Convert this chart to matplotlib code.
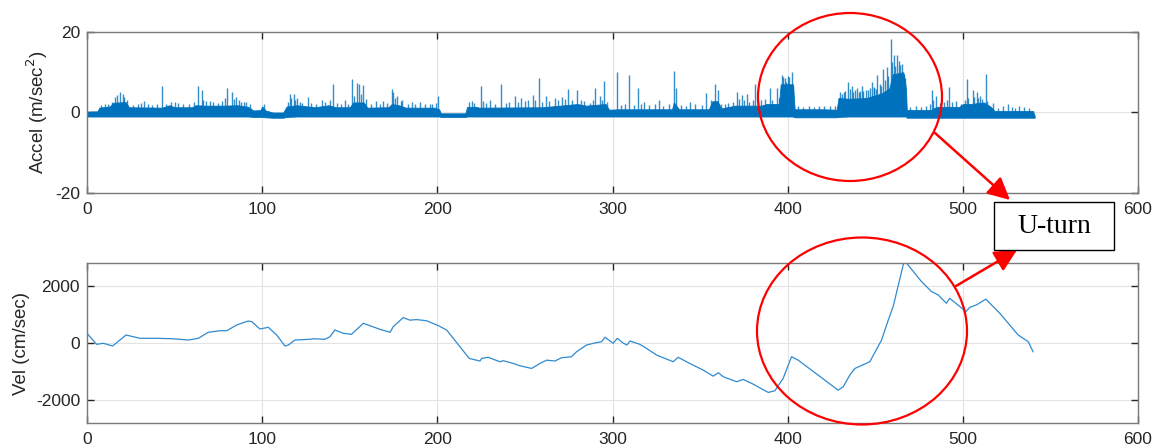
import numpy as np
import matplotlib
matplotlib.use('Agg')
import matplotlib.pyplot as plt
from matplotlib.patches import Ellipse, FancyArrowPatch, Rectangle

# accel band (noise floor): time, upper edge, lower edge
env_t  = [0, 6, 7, 13, 15, 22, 24, 43, 47, 50, 60, 62, 68, 78, 86, 92, 95, 99, 100, 102,
          106, 112, 114, 120, 130, 138, 142, 150, 152, 158, 160, 172, 174, 178, 182, 198,
          201, 202, 216, 217, 222, 224, 260, 280, 285, 296, 298, 304, 334, 335, 338, 355,
          357, 360, 362, 370, 385, 388, 395, 396, 403, 404, 420, 428, 429, 435, 445, 454,
          458, 460, 466, 467.5, 468, 482, 484, 486, 498, 500, 504, 512, 516, 518, 540, 541]
env_hi = [0.2, 0.3, 1.2, 1.5, 2.4, 2.6, 1.3, 1.2, 1.8, 1.3, 1.3, 1.8, 1.7, 1.7, 1.8, 1.4, 0.5, 0.6, 1.5, 0.5,
          0.0, 0.0, 1.5, 1.8, 1.3, 1.8, 1.3, 1.3, 2.5, 2.5, 1.2, 1.3, 2.1, 1.8, 1.2, 1.2,
          0.8, -0.2, -0.2, 1.4, 1.4, 1.2, 1.3, 2.1, 1.7, 2.1, 0.7, 0.8, 0.8, 2.5, 0.8, 0.8,
          2.8, 2.8, 1.0, 1.7, 1.7, 2.1, 2.1, 7.0, 7.0, 0.8, 0.8, 0.7, 3.6, 3.4, 3.6, 4.8,
          6.0, 9.5, 10.0, 6.0, 0.6, 0.6, 1.2, 1.4, 1.4, 2.1, 2.1, 2.5, 1.4, 0.4, 0.4, -0.8]
env_lo = [-1.0, -1.0, -1.0, -1.0, -1.0, -1.0, -1.0, -1.0, -1.0, -1.0, -1.0, -1.0, -1.0, -1.0, -1.0, -1.0, -1.1, -1.1, -1.1, -1.2,
          -1.3, -1.3, -1.1, -1.0, -1.0, -1.0, -1.0, -1.0, -1.0, -1.0, -1.0, -1.0, -1.0, -1.0, -1.0, -1.0,
          -1.0, -1.1, -1.1, -1.0, -1.0, -1.0, -1.0, -1.0, -1.0, -1.0, -1.0, -1.0, -1.0, -1.0, -1.0, -1.0,
          -1.0, -1.0, -1.0, -1.0, -1.0, -1.0, -1.0, -1.0, -1.0, -1.2, -1.2, -1.2, -1.1, -1.0, -1.0, -1.0,
          -1.0, -1.0, -1.0, -1.0, -1.3, -1.3, -1.3, -1.3, -1.3, -1.3, -1.3, -1.3, -1.3, -1.3, -1.3, -1.3]

# tall accel spikes: time, peak value
spike_t = [17, 18.8, 20.5, 32.7, 43, 48, 50.5, 63.5, 65.8, 68, 80, 82.5, 85, 87, 89.5,
           115.9, 118.3, 120, 126, 134, 140.4, 147, 151.4, 153.9, 155.4, 157.7, 165, 169,
           173.9, 174.8, 177, 180, 185.3, 190, 195.8, 200.5, 219.9, 224.7, 230, 236.1,
           244.1, 248, 254.4, 258.2, 262, 267, 271, 274.7, 279.5, 290, 292.8, 295.3,
           302.3, 309.5, 314.4, 318, 326.5, 335.2, 336.5, 344, 353.3, 358.4, 360, 371.2,
           373.7, 376.5, 381.3, 389.8, 393.7, 396.5, 398.5, 400, 402.2, 432, 434.6, 436.5,
           439.4, 442.2, 444.5, 447.9, 449.5, 451.1, 454.5, 456.8, 458.9, 460.8, 462.5,
           463.6, 465, 466.5, 482.1, 484.4, 492, 502.1, 505.9, 507.8, 509.7, 513, 525.6, 532]
spike_v = [4.3, 5.0, 4.5, 2.9, 6.5, 2.6, 2.5, 6.7, 5.7, 2.8, 6.1, 5.0, 3.8, 3.0, 2.5,
           4.5, 4.6, 3.5, 3.8, 3.0, 7.0, 3.0, 8.4, 7.3, 7.0, 6.8, 2.8, 2.8,
           5.9, 5.2, 4.0, 3.0, 2.5, 2.6, 2.2, 4.0, 2.8, 6.5, 3.2, 7.0,
           4.0, 3.5, 4.3, 8.6, 4.0, 3.6, 3.8, 5.9, 5.5, 6.1, 4.0, 7.8,
           10.0, 9.4, 6.1, 2.5, 3.0, 10.4, 6.0, 2.5, 4.9, 7.0, 5.5, 5.0,
           4.3, 4.6, 7.0, 6.0, 6.0, 9.2, 8.5, 9.0, 10.0, 5.0, 7.5, 6.6,
           6.0, 6.6, 5.5, 7.5, 6.0, 9.2, 10.8, 11.2, 18.3, 14.4, 14.4,
           12.9, 12.0, 9.5, 5.6, 4.2, 6.3, 8.4, 5.5, 5.0, 4.2, 9.6, 2.0, 1.6]

# smaller accel spikes that make the ragged top of the band
minor_t = [8, 10, 12, 14, 16, 21, 23, 26, 29, 31, 35, 37, 40, 45, 52, 55, 58,
           61, 66.5, 70, 72, 75, 77, 79, 84, 88, 91, 93, 101,
           114.5, 116.5, 119, 121.5, 123, 128, 131, 136, 138.5,
           143, 145, 149, 152.5, 156.5, 159, 162, 167, 171, 176, 179, 183, 187, 193, 197, 199,
           218, 221, 226, 228, 233, 239, 241, 246, 250, 252, 256, 260, 264, 269, 273, 277,
           282, 284, 287, 289, 294, 297,
           305, 307, 312, 316, 321, 324, 329, 332, 339, 342, 347, 351, 356, 362, 364, 366,
           369, 372, 375, 378, 380, 383, 385, 387, 391, 395,
           397.5, 399.3, 401, 403,
           406, 409, 412, 415, 418, 421, 424, 427,
           430, 431, 433, 435.5, 437.5, 438.5, 440.5, 441.5, 443, 446, 447, 449, 450.2,
           452.5, 453.5, 455.5, 457.5, 459.5, 461.5, 464, 467,
           470, 473, 476, 479, 481, 483, 487, 489, 491, 494, 496, 499, 501, 503, 506.5,
           508.5, 511, 514, 517, 520, 523, 528, 530, 535, 538]
minor_v = [1.9, 2.2, 2.0, 2.6, 3.8, 3.9, 3.0, 1.9, 2.0, 2.3, 2.1, 1.8, 2.2, 2.0, 2.4, 2.0, 2.2,
           2.6, 3.2, 2.8, 2.5, 2.4, 2.8, 3.5, 3.3, 2.6, 2.6, 2.2, 2.2,
           2.5, 3.6, 3.2, 2.7, 2.4, 2.4, 2.2, 2.6, 3.0,
           2.4, 2.2, 2.2, 4.0, 4.5, 3.4, 2.2, 2.1, 2.3, 3.5, 2.8, 2.2, 2.0, 2.1, 2.0, 2.4,
           2.5, 2.4, 2.8, 2.4, 2.2, 2.3, 2.6, 2.5, 2.8, 3.0, 3.0, 2.6, 2.9, 3.0, 3.4, 3.1,
           3.2, 2.8, 2.4, 3.0, 3.2, 2.7,
           1.8, 2.0, 1.8, 2.2, 1.8, 2.0, 1.7, 2.0, 1.8, 1.7, 2.0, 1.9, 3.0, 2.0, 2.2, 2.4,
           2.5, 3.4, 3.0, 2.6, 3.2, 2.8, 3.0, 3.4, 3.2, 3.5,
           8.8, 7.5, 8.8, 6.5,
           1.5, 1.4, 1.6, 1.3, 1.5, 1.6, 1.7, 1.6,
           5.0, 4.6, 5.4, 5.8, 5.0, 5.5, 5.0, 5.3, 5.4, 5.7, 6.0, 6.3, 5.8,
           7.2, 6.5, 8.0, 9.0, 12.5, 11.5, 11.8, 8.5,
           1.3, 1.5, 1.4, 1.6, 2.0, 3.0, 2.4, 2.6, 3.0, 2.6, 2.8, 2.2, 3.2, 3.5, 3.8,
           3.6, 3.3, 2.8, 2.3, 1.2, 1.5, 1.3, 1.2, 1.4, 1.2]

# velocity trace
vel_t = [0, 5.5, 9.4, 14.6, 22.3, 30.2, 39.8, 49, 57.8, 63.6, 69.2, 76, 79.8, 85.4, 92, 94,
         98.7, 103.5, 108.3, 113, 115, 118.7, 127.3, 129.2, 135.8, 138.7, 141.5, 146.3, 151,
         157.7, 167.2, 173, 174.8, 180.5, 184.3, 188.1, 193.8, 200.5, 205.3, 212.9, 218.2,
         224.3, 225.3, 229, 235.7, 237.7, 243.3, 247.1, 253.8, 258.6, 262.4, 267.1, 270.9,
         276.6, 279.5, 285.2, 289, 293.8, 295.7, 300.4, 302.7, 306.3, 308.2, 310, 315.6,
         319.4, 325.1, 334.6, 337.5, 342.2, 351.8, 357.5, 360.4, 363.2, 370.8, 374.6, 380.3,
         388.9, 392.7, 397.4, 402.2, 406, 428.8, 431.7, 435.5, 438.4, 446.9, 453.6, 457.4,
         460.2, 466.3, 467.8, 476.4, 482.1, 485.9, 490.6, 492.5, 498.3, 501.7, 504, 507.8,
         513.1, 521.1, 531.6, 537.3, 540.1]
vel_v = [340, -46, -10, -105, 280, 165, 165, 150, 105, 165, 375, 430, 430, 630, 770, 750,
         490, 550, 280, -105, -70, 105, 130, 150, 130, 220, 455, 340, 305,
         690, 480, 375, 570, 890, 800, 820, 780, 610, 455, -130, -540,
         -630, -540, -500, -655, -620, -715, -795, -890, -715, -600, -630, -515,
         -480, -305, -70, -12, 47, 200, -10, 165, -10, -70, 70, -46,
         -186, -420, -655, -500, -655, -950, -1160, -1040, -1180, -1355, -1275, -1440,
         -1730, -1670, -1240, -480, -600, -1650, -1530, -1120, -890, -655, 105, 800,
         1275, 2820, 2800, 2150, 1800, 1685, 1390, 1565, 1275, 1100, 1250, 1335,
         1535, 1040, 280, 47, -305]

blue = '#0072BD'
plt.rcParams['font.family'] = ['Liberation Sans', 'DejaVu Sans']
plt.rcParams['axes.unicode_minus'] = False

fig = plt.figure(figsize=(11.57, 4.48), dpi=100)
ax1 = fig.add_axes([0.0752, 0.5692, 0.9084, 0.3594])
ax2 = fig.add_axes([0.0752, 0.0558, 0.9084, 0.3571])

ax1.fill_between(env_t, env_lo, env_hi, color=blue, linewidth=0.6, edgecolor=blue)
ax1.vlines(minor_t, 0, minor_v, color=blue, linewidth=1.0, alpha=0.8)
ax1.vlines(spike_t, 0, spike_v, color=blue, linewidth=1.0, alpha=0.8)
ax1.set_ylim(-20, 20)
ax1.set_yticks([-20, 0, 20])
ax1.set_ylabel('Accel (m/sec$^2$)', fontsize=13.5, color='#262626')

ax2.plot(vel_t, vel_v, color='#2f8ad0', linewidth=0.9)
ax2.set_ylim(-2800, 2800)
ax2.set_yticks([-2000, 0, 2000])
ax2.set_ylabel('Vel (cm/sec)', fontsize=13.5, color='#262626')

for ax in (ax1, ax2):
    ax.set_xlim(0, 600)
    ax.set_xticks(range(0, 601, 100))
    ax.grid(True, color='#e3e3e3', linewidth=0.8)
    ax.set_axisbelow(True)
    ax.tick_params(direction='in', length=5, width=1, top=True, right=True,
                   labelsize=12.5, colors='#262626')
    ax.tick_params(axis='x', pad=6.5)
    ax.tick_params(axis='y', pad=5)
    for s in ax.spines.values():
        s.set_color('#7a7a7a')
        s.set_linewidth(1.0)

# annotations (figure fraction)
W, H = 1157.0, 448.0
def fxy(x, y):
    return (x / W, 1 - y / H)

fig.add_artist(Ellipse(fxy(850, 97), 184 / W, 168 / H, transform=fig.transFigure,
                       fill=False, edgecolor='red', linewidth=1.6))
fig.add_artist(Ellipse(fxy(862, 331), 210 / W, 187 / H, transform=fig.transFigure,
                       fill=False, edgecolor='red', linewidth=1.6))
for a, b in [((935, 133), (1010, 200)), ((956, 286), (1017, 250))]:
    fig.add_artist(FancyArrowPatch(fxy(*a), fxy(*b), transform=fig.transFigure,
                                   arrowstyle='-|>,head_length=0.9,head_width=0.45',
                                   mutation_scale=15, color='red', linewidth=1.8,
                                   shrinkA=0, shrinkB=0))
fig.add_artist(Rectangle(fxy(994, 250), 120 / W, 48 / H, transform=fig.transFigure,
                         facecolor='white', edgecolor='black', linewidth=1.0, zorder=5))
fig.text(1054 / W, 1 - 226 / H, 'U-turn', family='Liberation Serif', fontsize=20,
         ha='center', va='center', zorder=6)

fig.savefig('out.png', dpi=100)
